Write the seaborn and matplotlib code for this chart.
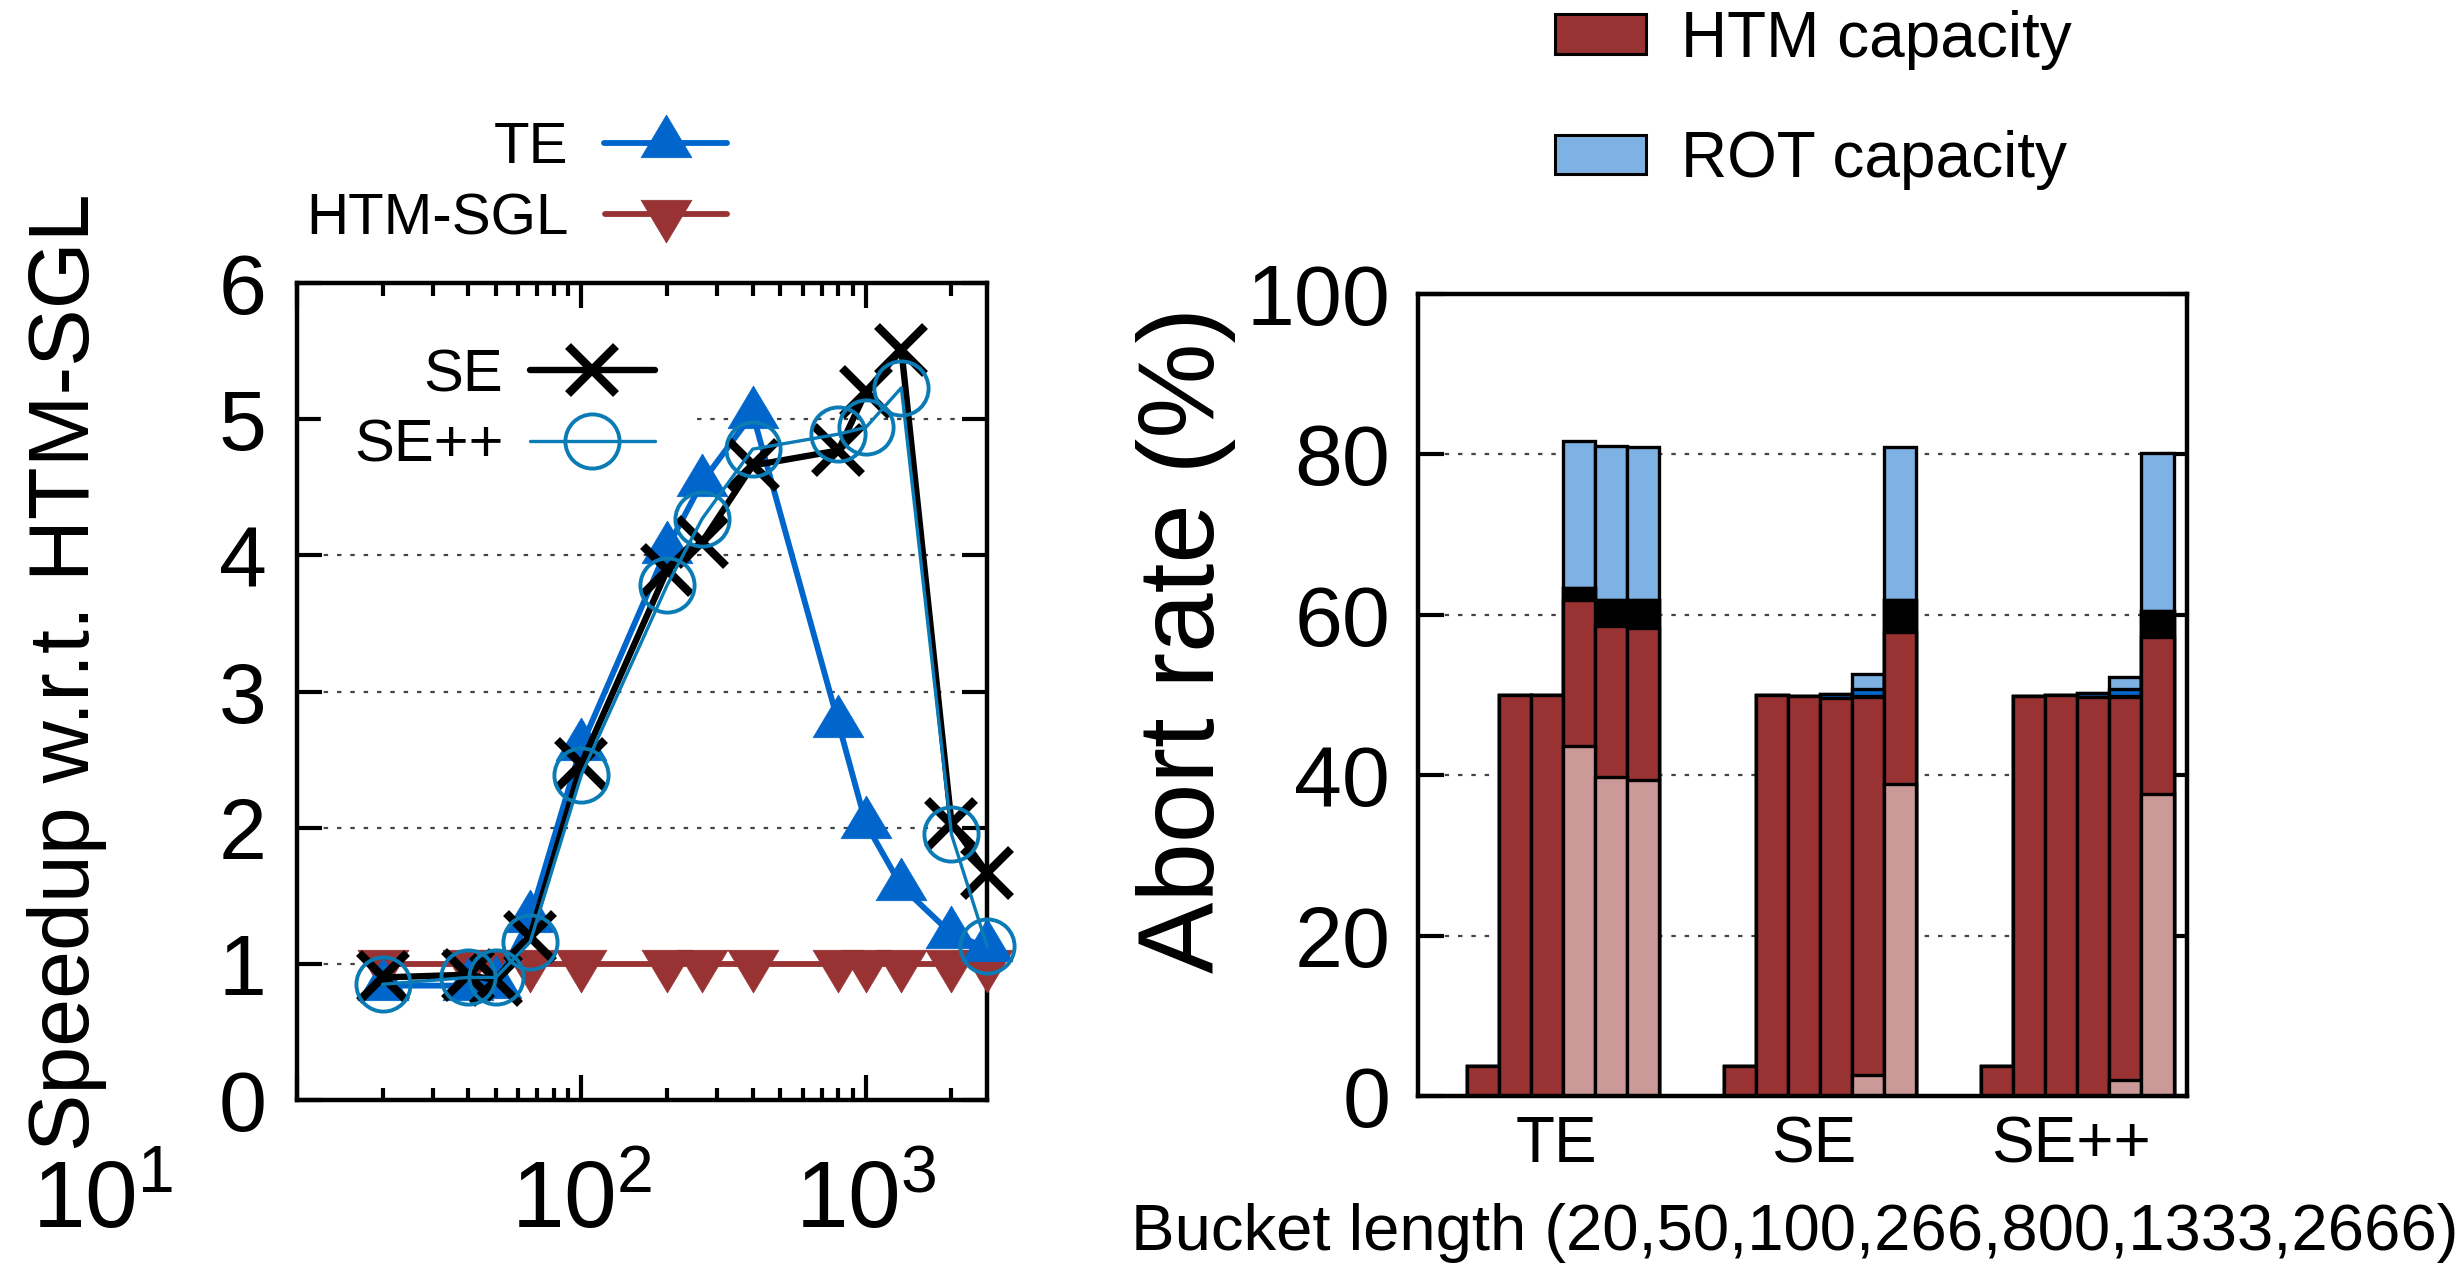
import matplotlib
matplotlib.use("Agg")
import numpy as np
import pandas as pd
import seaborn as sns
import matplotlib.pyplot as plt
from matplotlib import transforms
from matplotlib.patches import Patch
from matplotlib.ticker import LogLocator, NullFormatter

# ---------------- speedup over HTM-SGL, by bucket length ----------------
bucket_lengths = [20, 40, 50, 66, 100, 200, 266, 400, 800, 1000, 1333, 2000, 2666]
speedup_te = [0.84, 0.84, 0.85, 1.34, 2.60, 4.05, 4.54, 5.04, 2.77, 2.03, 1.57, 1.22, 1.12]
speedup_htm_sgl = [1.0, 1.0, 1.0, 1.0, 1.0, 1.0, 1.0, 1.0, 1.0, 1.0, 1.0, 1.0, 1.0]
speedup_se = [0.90, 0.92, 0.88, 1.20, 2.47, 3.89, 4.10, 4.66, 4.77, 5.20, 5.51, 2.03, 1.67]
speedup_sepp = [0.85, 0.90, 0.90, 1.16, 2.39, 3.78, 4.27, 4.78, 4.89, 4.94, 5.23, 1.95, 1.13]

# ---------------- abort-rate breakdown (%), bottom to top of each bar ----------------
variants = ["TE", "SE", "SE++"]
bar_lengths = [20, 50, 100, 266, 800, 1333, 2666]
htm_conflict = {
    "TE":   [0.0, 0.0, 0.0, 0.0, 43.6, 39.8, 39.4],
    "SE":   [0.0, 0.0, 0.0, 0.0, 0.0, 2.6, 38.9],
    "SE++": [0.0, 0.0, 0.0, 0.0, 0.0, 2.0, 37.6],
}
htm_capacity = {
    "TE":   [0.0, 3.8, 50.0, 50.0, 18.3, 18.8, 18.9],
    "SE":   [0.0, 3.7, 50.0, 49.9, 49.6, 47.1, 19.0],
    "SE++": [0.0, 3.7, 49.9, 50.0, 49.7, 47.7, 19.6],
}
fallback_aborts = {
    "TE":   [0.0, 0.0, 0.0, 0.0, 1.5, 3.3, 3.5],
    "SE":   [0.0, 0.0, 0.0, 0.0, 0.0, 0.2, 3.9],
    "SE++": [0.0, 0.0, 0.0, 0.0, 0.0, 0.2, 3.3],
}
rot_conflict = {
    "TE":   [0.0, 0.0, 0.0, 0.0, 0.0, 0.0, 0.0],
    "SE":   [0.0, 0.0, 0.0, 0.0, 0.5, 0.9, 0.0],
    "SE++": [0.0, 0.0, 0.0, 0.0, 0.6, 0.9, 0.0],
}
rot_capacity = {
    "TE":   [0.0, 0.0, 0.0, 0.0, 18.3, 19.1, 19.1],
    "SE":   [0.0, 0.0, 0.0, 0.0, 0.0, 1.8, 19.1],
    "SE++": [0.0, 0.0, 0.0, 0.0, 0.0, 1.5, 19.7],
}

# ---------------- colours ----------------
C_TE = "#0066CC"
C_SGL = "#993333"
C_SE = "#000000"
C_SEPP = "#0A7BB5"
C_PINK = "#CC9999"
C_DRED = "#993333"
C_BLACK = "#000000"
C_DBLUE = "#0066CC"
C_LBLUE = "#7FB2E4"

sns.set_theme(style="ticks")
plt.rcParams["font.family"] = ["Liberation Sans", "DejaVu Sans"]
plt.rcParams["mathtext.fontset"] = "custom"
plt.rcParams["mathtext.rm"] = "Liberation Sans"
plt.rcParams["mathtext.it"] = "Liberation Sans:italic"
plt.rcParams["mathtext.bf"] = "Liberation Sans:bold"
for key in ["axes.edgecolor", "text.color", "xtick.color", "ytick.color",
            "xtick.labelcolor", "ytick.labelcolor", "axes.labelcolor"]:
    plt.rcParams[key] = "black"

W, H = 2463, 1270
fig = plt.figure(figsize=(W / 100, H / 100), dpi=100)


def px_axes(left, top, right, bottom):
    return fig.add_axes([left / W, 1 - bottom / H, (right - left) / W, (bottom - top) / H])


TICK_FS = 62
XTICK_FS = 68
XPAD = 42

# ======================= left: speedup =======================
ax1 = px_axes(297, 283, 987, 1100)
ax1.set_xscale("log")

# gnuplot-style triangles, centred on their centroid
tri_up = [(0, 1.12), (-1, -0.56), (1, -0.56), (0, 1.12)]
tri_dn = [(0, -1.12), (-1, 0.56), (1, 0.56), (0, -1.12)]

df = pd.DataFrame({
    "length": bucket_lengths,
    "TE": speedup_te,
    "HTM-SGL": speedup_htm_sgl,
    "SE": speedup_se,
    "SE++": speedup_sepp,
})

styles = {
    "HTM-SGL": dict(color=C_SGL, lw=4.2, marker=tri_dn, ms=41, mfc=C_SGL, mec=C_SGL, mew=0.5),
    "TE": dict(color=C_TE, lw=4.2, marker=tri_up, ms=41, mfc=C_TE, mec=C_TE, mew=0.5),
    "SE": dict(color=C_SE, lw=4.6, marker="x", ms=35, mec=C_SE, mew=6.0),
    "SE++": dict(color=C_SEPP, lw=2.4, marker="o", ms=39, mfc="none", mec=C_SEPP, mew=2.8),
}
handles = {}
for name in ["HTM-SGL", "TE", "SE", "SE++"]:
    sns.lineplot(data=df, x="length", y=name, ax=ax1, errorbar=None,
                 clip_on=False, zorder=3, **styles[name])
    handles[name] = ax1.lines[-1]

ax1.set_xlim(10, 2666)
ax1.set_ylim(0, 6)
ax1.set_xlabel("")
ax1.set_ylabel("")
ax1.set_yticks([0, 1, 2, 3, 4, 5, 6])
ax1.set_xticks([10, 100, 1000], labels=["", r"$\mathregular{10^{2}}$", r"$\mathregular{10^{3}}$"])
ax1.xaxis.set_minor_locator(LogLocator(base=10, subs=np.arange(2, 10)))
ax1.xaxis.set_minor_formatter(NullFormatter())
ax1.tick_params(axis="both", which="major", direction="in", length=18, width=3,
                labelsize=TICK_FS, top=True, right=True, color="black", labelcolor="black")
ax1.tick_params(axis="x", which="major", pad=XPAD, labelsize=XTICK_FS)
ax1.tick_params(axis="y", which="major", pad=22)
ax1.tick_params(axis="x", which="minor", direction="in", length=9, width=3, top=True)
for sp in ax1.spines.values():
    sp.set_linewidth(3.2)
    sp.set_visible(True)
ax1.grid(axis="y", which="major", color="#444444", lw=1.6, ls=(0, (2, 4)))
ax1.set_axisbelow(True)

# first decade label sits further left
lab_off = transforms.offset_copy(ax1.transAxes, fig=fig, y=-XPAD, units="points")
ax1.text(-0.281, 0, r"$\mathregular{10^{1}}$", transform=lab_off, ha="center", va="top",
         fontsize=XTICK_FS)

leg1 = fig.legend([handles["TE"], handles["HTM-SGL"]], ["TE", "HTM-SGL"],
                  loc="center right", bbox_to_anchor=(727 / W, 1 - 184 / H),
                  frameon=False, markerfirst=False, fontsize=42, handlelength=2.1,
                  handletextpad=0.62, labelspacing=0.3, borderpad=0, borderaxespad=0)

leg2 = ax1.legend([handles["SE"], handles["SE++"]], ["SE", "SE++"],
                  loc="center right", bbox_to_anchor=(688 / W, 1 - 411 / H),
                  bbox_transform=fig.transFigure, frameon=True, fancybox=False,
                  facecolor="white", edgecolor="white", framealpha=1.0,
                  markerfirst=False, fontsize=43, handlelength=2.1, handletextpad=0.44,
                  labelspacing=0.26, borderpad=0.55, borderaxespad=0)
leg2.set_zorder(2.5)

fig.text(67 / W, 1 - 672 / H, "Speedup w.r.t. HTM-SGL", rotation=90, ha="center",
         va="center", fontsize=62)

# ======================= right: abort breakdown =======================
ax2 = px_axes(1418, 294, 2187, 1096)

slots = len(bar_lengths) + 1
rows = []
for gi, v in enumerate(variants):
    for bi, L in enumerate(bar_lengths):
        rows.append({
            "variant": v, "length": L, "pos": gi * slots + bi,
            "c1": htm_conflict[v][bi],
            "c2": htm_capacity[v][bi],
            "c3": fallback_aborts[v][bi],
            "c4": rot_conflict[v][bi],
            "c5": rot_capacity[v][bi],
        })
bars = pd.DataFrame(rows)
bars["cum1"] = bars["c1"]
bars["cum2"] = bars["cum1"] + bars["c2"]
bars["cum3"] = bars["cum2"] + bars["c3"]
bars["cum4"] = bars["cum3"] + bars["c4"]
bars["cum5"] = bars["cum4"] + bars["c5"]

# stacked look: tallest cumulative layer first, each lower layer painted over it
for col, colr in [("cum5", C_LBLUE), ("cum4", C_DBLUE), ("cum3", C_BLACK),
                  ("cum2", C_DRED), ("cum1", C_PINK)]:
    sns.barplot(data=bars, x="pos", y=col, native_scale=True, width=1.0, color=colr,
                saturation=1, edgecolor="black", linewidth=2.4, errorbar=None,
                ax=ax2, zorder=2)

ax2.set_xlim(-1.01, 22.92)
ax2.set_ylim(0, 100)
ax2.set_xlabel("")
ax2.set_ylabel("")
group_centres = [gi * slots + (len(bar_lengths) - 1) / 2 + 0.3 for gi in range(len(variants))]
ax2.set_xticks(group_centres, labels=variants)
ax2.tick_params(axis="x", length=0, labelsize=46, pad=14, labelcolor="black")
ax2.set_yticks([0, 20, 40, 60, 80, 100])
ax2.tick_params(axis="y", direction="in", length=19, width=3, labelsize=TICK_FS,
                right=True, pad=20, color="black", labelcolor="black")
for sp in ax2.spines.values():
    sp.set_linewidth(3.2)
    sp.set_visible(True)
    sp.set_zorder(5)
ax2.grid(axis="y", which="major", color="#444444", lw=1.6, ls=(0, (2, 4)))
ax2.set_axisbelow(True)

fig.text(1186 / W, 1 - 640 / H, "Abort rate (%)", rotation=90, ha="center", va="center",
         fontsize=77)
fig.text(1795 / W, 1 - 1233 / H, "Bucket length (20,50,100,266,800,1333,2666)",
         ha="center", va="center", fontsize=47)

leg3 = fig.legend([Patch(facecolor=C_DRED, edgecolor="black", lw=2.2),
                   Patch(facecolor=C_LBLUE, edgecolor="black", lw=2.2)],
                  ["HTM capacity", "ROT capacity"],
                  loc="center left", bbox_to_anchor=(1555 / W, 1 - 100 / H),
                  frameon=False, fontsize=46, handlelength=1.42, handleheight=0.57,
                  handletextpad=0.55, labelspacing=0.95, borderpad=0, borderaxespad=0)

fig.savefig("out.png", dpi=100)
